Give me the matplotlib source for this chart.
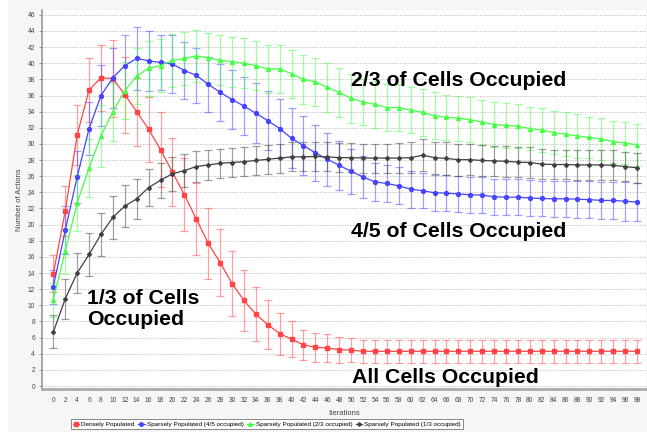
import numpy as np
import matplotlib
matplotlib.use("Agg")
import matplotlib.pyplot as plt

iterations = list(range(0, 100, 2))

dense = [13.9, 21.7, 31.1, 36.7, 38.2, 38.1, 36.1, 34.0, 31.8, 29.3,
         26.5, 23.7, 20.7, 17.7, 15.3, 12.7, 10.6, 8.9, 7.6, 6.5,
         5.8, 5.1, 4.8, 4.7, 4.5, 4.45, 4.3, 4.3, 4.3, 4.3,
         4.3, 4.3, 4.3, 4.3, 4.3, 4.3, 4.3, 4.3, 4.3, 4.3,
         4.3, 4.3, 4.3, 4.3, 4.3, 4.3, 4.3, 4.3, 4.3, 4.3]
dense_err = [2.3, 3.1, 3.7, 4.0, 4.1, 4.8, 4.7, 4.2, 4.0, 4.6,
             4.2, 4.5, 4.5, 4.4, 4.1, 4.0, 3.75, 3.35, 3.0, 2.6,
             2.25, 1.9, 1.8, 1.7, 1.6, 1.5, 1.4, 1.4, 1.4, 1.4,
             1.4, 1.4, 1.4, 1.4, 1.4, 1.4, 1.4, 1.4, 1.4, 1.4,
             1.4, 1.4, 1.4, 1.4, 1.4, 1.4, 1.4, 1.4, 1.4, 1.4]

sparse_45 = [12.3, 19.3, 25.9, 31.9, 36.0, 38.2, 39.7, 40.6, 40.3, 40.1,
             39.9, 39.1, 38.5, 37.4, 36.4, 35.5, 34.7, 33.8, 32.9, 31.9,
             30.7, 29.8, 28.9, 28.1, 27.35, 26.6, 25.9, 25.3, 25.1, 24.8,
             24.4, 24.2, 23.95, 23.9, 23.8, 23.7, 23.65, 23.45, 23.4, 23.4,
             23.3, 23.25, 23.2, 23.2, 23.15, 23.1, 23.0, 23.0, 22.9, 22.8]
sparse_45_err = [2.1, 3.0, 3.2, 3.3, 3.8, 3.7, 3.8, 3.9, 3.7, 3.4,
                 3.6, 3.5, 3.4, 3.4, 3.5, 3.65, 3.6, 3.7, 3.7, 3.7,
                 3.7, 3.7, 3.5, 3.3, 3.0, 2.8, 2.6, 2.4, 2.3, 2.3,
                 2.3, 2.2, 2.2, 2.2, 2.2, 2.2, 2.2, 2.2, 2.2, 2.2,
                 2.2, 2.2, 2.2, 2.2, 2.3, 2.3, 2.3, 2.3, 2.4, 2.4]

sparse_23 = [10.7, 16.7, 22.7, 27.0, 31.0, 34.0, 36.6, 38.4, 39.4, 39.7,
             40.35, 40.6, 40.9, 40.7, 40.35, 40.2, 40.0, 39.7, 39.3, 39.3,
             38.7, 38.0, 37.7, 37.0, 36.4, 35.65, 35.2, 34.9, 34.5, 34.5,
             34.2, 33.9, 33.5, 33.3, 33.2, 33.0, 32.7, 32.4, 32.3, 32.2,
             31.9, 31.7, 31.4, 31.2, 31.0, 30.8, 30.6, 30.3, 30.1, 29.9]
sparse_23_err = [2.1, 2.8, 3.5, 3.6, 3.85, 3.6, 3.5, 3.5, 3.4, 3.3,
                 3.3, 3.3, 3.2, 3.1, 3.1, 3.1, 3.1, 3.0, 3.0, 3.0,
                 3.0, 3.0, 3.0, 3.0, 3.0, 3.0, 2.9, 2.9, 2.9, 2.9,
                 2.9, 2.9, 2.9, 2.8, 2.8, 2.8, 2.8, 2.8, 2.8, 2.7,
                 2.7, 2.7, 2.7, 2.7, 2.7, 2.6, 2.6, 2.6, 2.6, 2.6]

sparse_13 = [6.7, 10.8, 14.0, 16.3, 18.8, 20.9, 22.3, 23.2, 24.6, 25.5,
             26.3, 26.7, 27.2, 27.4, 27.6, 27.7, 27.8, 27.95, 28.1, 28.25,
             28.4, 28.4, 28.45, 28.4, 28.3, 28.3, 28.25, 28.25, 28.25, 28.25,
             28.3, 28.6, 28.3, 28.2, 28.05, 28.05, 27.95, 27.9, 27.85, 27.75,
             27.7, 27.5, 27.45, 27.45, 27.4, 27.4, 27.4, 27.35, 27.2, 27.05]
sparse_13_err = [2.05, 2.45, 2.5, 2.7, 2.65, 2.7, 2.6, 2.5, 2.3, 2.2,
                 2.1, 2.0, 1.9, 1.9, 1.8, 1.8, 1.8, 1.75, 1.8, 1.8,
                 1.8, 1.8, 1.8, 1.8, 1.8, 1.8, 1.8, 1.8, 1.8, 1.9,
                 1.9, 2.0, 2.0, 2.0, 2.0, 1.9, 1.9, 1.9, 1.9, 1.9,
                 1.9, 1.9, 1.85, 1.85, 1.85, 1.85, 1.85, 1.85, 1.85, 1.85]

labels = ["Densely Populated", "Sparsely Populated (4/5 occupied)",
          "Sparsely Populated (2/3 occupied)", "Sparsely Populated (1/3 occupied)"]

plt.rcParams["font.family"] = ["Liberation Sans", "DejaVu Sans"]

fig = plt.figure(figsize=(6.47, 4.32), dpi=100, facecolor="#f6f6f6")
# white strip down the left edge, as in the screenshot
fig.patches.append(plt.Rectangle((0, 0), 8 / 647, 1, transform=fig.transFigure,
                                 facecolor="white", edgecolor="none", zorder=-1))
ax = fig.add_axes([42 / 647, 1 - 389 / 432, 604 / 647, 379 / 432])

series = [
    (dense, dense_err, "#ff4545", "s", 3.0),
    (sparse_45, sparse_45_err, "#4545ff", "o", 2.8),
    (sparse_23, sparse_23_err, "#45ff45", "^", 2.8),
    (sparse_13, sparse_13_err, "#404040", "D", 2.0),
]

x = np.array(iterations)
for (vals, errs, col, mk, ms), lab in zip(series, labels):
    ax.errorbar(x, vals, yerr=errs, fmt="none", ecolor=col, elinewidth=0.9,
                capsize=2.6, capthick=0.9, alpha=0.5, zorder=2)
    ax.plot(x, vals, color=col, marker=mk, markersize=ms, linewidth=0.9,
            label=lab, zorder=3)

ax.set_xlim(-1.9, 99.5)
ax.set_ylim(-0.37, 46.6)
ax.set_xticks(iterations)
ax.set_xticklabels([str(i) for i in iterations], fontsize=4.8, color="#444444")
ax.set_yticks(range(0, 47, 2))
ax.set_yticklabels([str(i) for i in range(0, 47, 2)], fontsize=4.8, color="#444444")
ax.tick_params(axis="both", length=2, width=0.6, color="#888888", pad=3)
ax.tick_params(axis="x", length=0, pad=6)

ax.yaxis.grid(True, linestyle=(0, (1.5, 1.5)), color="#bbbbbb", linewidth=0.6)
ax.set_axisbelow(True)
for s in ["top", "right"]:
    ax.spines[s].set_visible(False)
ax.spines["left"].set_color("#999999")
ax.spines["left"].set_linewidth(1.2)
ax.spines["bottom"].set_color("#aaaaaa")
ax.spines["bottom"].set_linewidth(2)

ax.set_xlabel("Iterations", fontsize=5.5, color="#444444", labelpad=4)
ax.set_ylabel("Number of Actions", fontsize=5.5, color="#444444", labelpad=3)

big = dict(fontsize=15.3, fontweight="bold", color="black", va="center", ha="left", zorder=5)
ax.text(50, 37.9, "2/3 of Cells Occupied", **big)
ax.text(50, 19.2, "4/5 of Cells Occupied", **big)
ax.text(5.7, 9.5, "1/3 of Cells\nOccupied", linespacing=1.12, **big)
ax.text(50.2, 1.1, "All Cells Occupied", **big)

leg = fig.legend(loc="center", bbox_to_anchor=(267 / 647, 1 - 424 / 432), ncol=4,
                 fontsize=4.6, frameon=True, fancybox=False, edgecolor="#555555",
                 handlelength=1.0, handletextpad=0.3, columnspacing=0.6,
                 borderpad=0.3, markerscale=0.9)
leg.get_frame().set_linewidth(0.6)

fig.savefig("out.png", dpi=100, facecolor=fig.get_facecolor())
